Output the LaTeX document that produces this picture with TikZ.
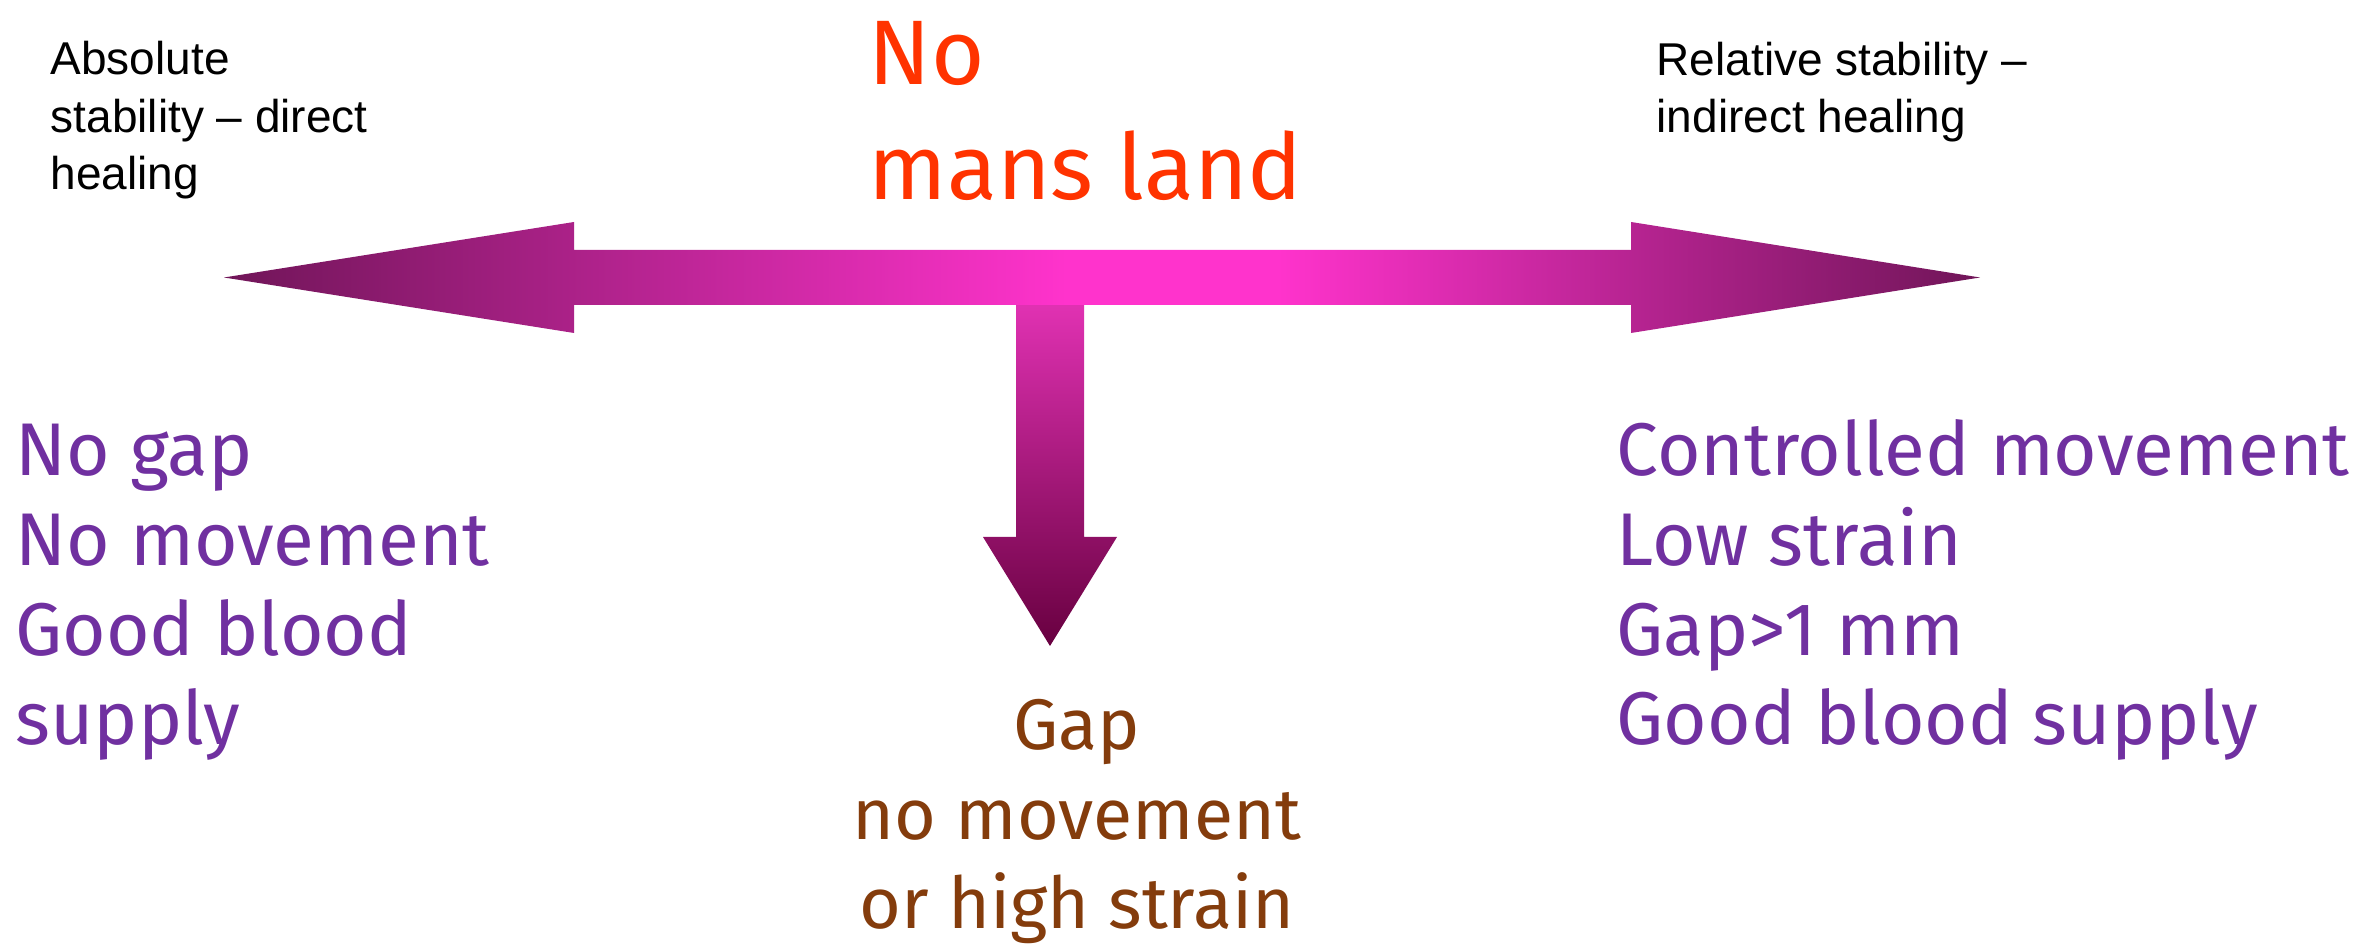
\documentclass[tikz,border=0pt]{standalone}
\usepackage{fontspec}
\setmainfont{Liberation Sans}
\newfontfamily\handfont{Fira Sans}
\usetikzlibrary{positioning}

\definecolor{armdark}{HTML}{701558}
\definecolor{armpink}{HTML}{FF33CC}
\definecolor{stemdark}{HTML}{680040}
\definecolor{stemtop}{HTML}{E232B4}
\definecolor{listpurple}{HTML}{7030A0}
\definecolor{landred}{HTML}{FF3300}
\definecolor{gapbrown}{HTML}{843C0C}

\pgfdeclarehorizontalshading{armshade}{100bp}{color(0bp)=(armdark); color(25bp)=(armdark);
    color(49bp)=(armpink); color(55bp)=(armpink); color(75bp)=(armdark); color(100bp)=(armdark)}
\pgfdeclareverticalshading{stemshade}{100bp}{color(0bp)=(stemdark); color(25bp)=(stemdark);
    color(75bp)=(stemtop); color(100bp)=(stemtop)}

\begin{document}
\begin{tikzpicture}[
    x=0.3pt, y=-0.3pt,
    note/.style={font=\fontsize{13.8}{17.25}\selectfont, align=left, anchor=base west,
        inner sep=0pt},
    hand/.style={font=\handfont\fontsize{22.4}{26.9}\selectfont, align=left,
        anchor=base west, inner sep=0pt, text=listpurple},
    handmid/.style={font=\handfont\fontsize{21.5}{26.9}\selectfont, align=center,
        anchor=base, inner sep=0pt, text=gapbrown},
    handbig/.style={font=\handfont\fontsize{27.5}{34.5}\selectfont, align=left,
        anchor=base west, inner sep=0pt, text=landred}
]
    \useasboundingbox (0,0) rectangle (2374,944);

    \shade[shading=stemshade] (1016,300) -- (1084,300) -- (1084,537) -- (1117,537)
        -- (1050,646) -- (983,537) -- (1016,537) -- cycle;
    \shade[shading=armshade] (224,277.5) -- (574,222) -- (574,250) -- (1631,250)
        -- (1631,222) -- (1980,277.5) -- (1631,333) -- (1631,305) -- (574,305)
        -- (574,333) -- cycle;

    \node[note] (absolute) at (50,190) {Absolute\\stability -- direct\\healing};
    \node[note] (relative) at (1656,133) {Relative stability --\\indirect healing};
    \node[handbig] (nomans) at (868,200) {No\\mans land};

    \node[hand] (nogap) at (15,745) {No gap\\No movement\\Good blood\\supply};
    \node[hand] (controlled) at (1616,745) {Controlled movement\\Low strain\\Gap>1 mm\\Good blood supply};
    \node[handmid] (gapmid) at (1077,929) {Gap\\no movement\\or high strain};
\end{tikzpicture}
\end{document}
